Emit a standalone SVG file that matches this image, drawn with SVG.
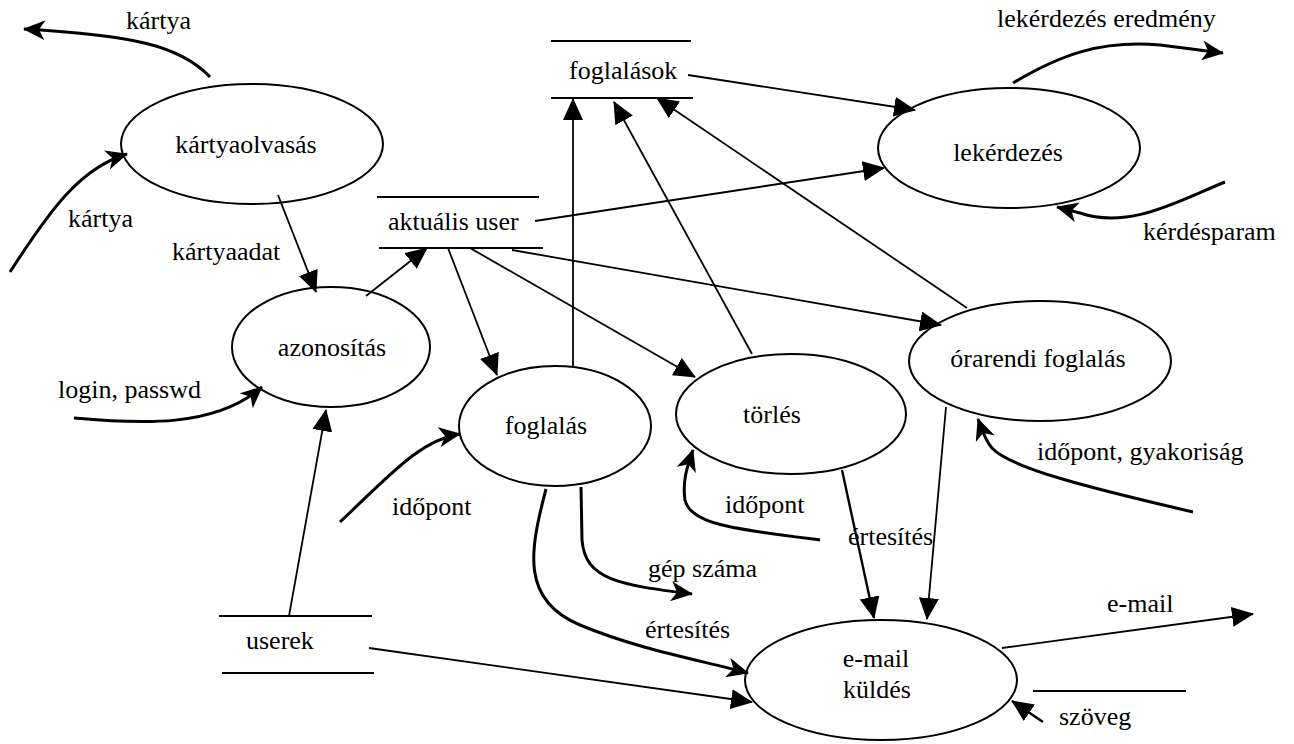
<svg xmlns="http://www.w3.org/2000/svg" width="1294" height="744" viewBox="0 0 1294 744" font-family="Liberation Serif, serif">
<style>
text{font-family:'Liberation Serif',serif;font-size:26px;fill:#000}
.n{text-anchor:middle}
.node ellipse{fill:none;stroke:#000;stroke-width:2}
.store line{stroke:#000;stroke-width:2}
.thin{fill:none;stroke:#000;stroke-width:1.8;marker-end:url(#a)}
.thick{fill:none;stroke:#000;stroke-width:3;marker-end:url(#b)}
</style>
<defs>
<marker id="a" markerUnits="userSpaceOnUse" markerWidth="22" markerHeight="20" refX="21" refY="10" orient="auto"><path d="M0,0 L22,10 L0,20 z" fill="#000"/></marker>
<marker id="b" markerUnits="userSpaceOnUse" markerWidth="22" markerHeight="20" refX="21" refY="10" orient="auto"><path d="M0,0 L22,10 L0,20 L6,10 z" fill="#000"/></marker>
</defs>
<rect width="1294" height="744" fill="#fff"/>

<g id="kartyaolvasas" class="node"><ellipse cx="252" cy="144" rx="131" ry="60"/><text class="n" x="246" y="153">kártyaolvasás</text></g>
<g id="azonositas" class="node"><ellipse cx="331" cy="347" rx="99" ry="60"/><text class="n" x="332" y="356">azonosítás</text></g>
<g id="foglalas" class="node"><ellipse cx="555" cy="426" rx="96" ry="60"/><text class="n" x="546" y="434">foglalás</text></g>
<g id="torles" class="node"><ellipse cx="791" cy="414" rx="115" ry="60"/><text class="n" x="772" y="423">törlés</text></g>
<g id="orarendi" class="node"><ellipse cx="1040" cy="361" rx="131" ry="60"/><text class="n" x="1038" y="367">órarendi foglalás</text></g>
<g id="lekerdezes" class="node"><ellipse cx="1009" cy="148" rx="131" ry="60"/><text class="n" x="1008" y="161">lekérdezés</text></g>
<g id="email" class="node"><ellipse cx="881" cy="680" rx="136" ry="60"/><text class="n" x="876" y="667">e-mail</text><text class="n" x="877" y="698">küldés</text></g>

<g id="foglalasok" class="store"><line x1="551" y1="41" x2="691" y2="41"/><line x1="551" y1="98" x2="693" y2="98"/><text x="569" y="79">foglalások</text></g>
<g id="aktualis" class="store"><line x1="377" y1="197" x2="539" y2="197"/><line x1="379" y1="248" x2="543" y2="248"/><text x="388" y="230">aktuális user</text></g>
<g id="userek" class="store"><line x1="219" y1="616" x2="372" y2="616"/><line x1="222" y1="673" x2="374" y2="673"/><text x="246" y="649">userek</text></g>
<g id="szoveg" class="store"><line x1="1033" y1="691" x2="1186" y2="691"/></g>

<g id="connectors">
<path class="thick" d="M210,77 C180,45 130,35 24,29"/>
<path class="thick" d="M10,272 C50,210 80,168 127,154"/>
<path class="thin" d="M278,195 L316,292"/>
<path class="thin" d="M366,296 L427,248"/>
<path class="thin" d="M289,616 L326,410"/>
<path class="thick" d="M74,418 C140,424 215,428 262,387"/>
<path class="thick" d="M340,522 C390,475 420,440 460,434"/>
<path class="thin" d="M448,248 L497,375"/>
<path class="thin" d="M470,248 L695,377"/>
<path class="thin" d="M512,250 L941,325"/>
<path class="thin" d="M535,221 L884,168"/>
<path class="thin" d="M688,75 L915,110"/>
<path class="thin" d="M573,366 L573,99"/>
<path class="thin" d="M752,354 L614,102"/>
<path class="thin" d="M967,308 L657,98"/>
<path class="thick" d="M546,489 C530,550 520,600 580,625 C640,650 700,660 748,673"/>
<path class="thick" d="M581,487 L582,540 C585,580 620,585 692,594"/>
<path class="thin" d="M369,648 L752,702"/>
<path class="thick" d="M820,540 C740,530 690,525 685,500 C682,480 688,465 693,450"/>
<path class="thin" style="stroke-width:2.4" d="M842,470 L874,618"/>
<path class="thin" d="M946,407 L927,619"/>
<path class="thick" d="M1193,512 C1090,488 1010,468 992,448 C985,440 982,430 978,419"/>
<path class="thin" d="M1002,648 L1253,614"/>
<path class="thin" style="stroke-width:2.4" d="M1043,722 L1012,701"/>
<path class="thick" d="M1013,83 C1060,55 1100,40 1160,45 L1223,53"/>
<path class="thick" d="M1225,182 C1180,200 1130,230 1080,213 L1057,207"/>
</g>

<g id="labels">
<text x="126" y="29">kártya</text>
<text x="68" y="227">kártya</text>
<text x="172" y="260">kártyaadat</text>
<text x="58" y="398">login, passwd</text>
<text x="392" y="515">időpont</text>
<text x="648" y="577">gép száma</text>
<text x="645" y="638">értesítés</text>
<text x="725" y="513">időpont</text>
<text x="848" y="545">értesítés</text>
<text x="1037" y="460">időpont, gyakoriság</text>
<text x="1107" y="612">e-mail</text>
<text x="1059" y="725">szöveg</text>
<text x="997" y="27">lekérdezés eredmény</text>
<text x="1143" y="240">kérdésparam</text>
</g>
</svg>
